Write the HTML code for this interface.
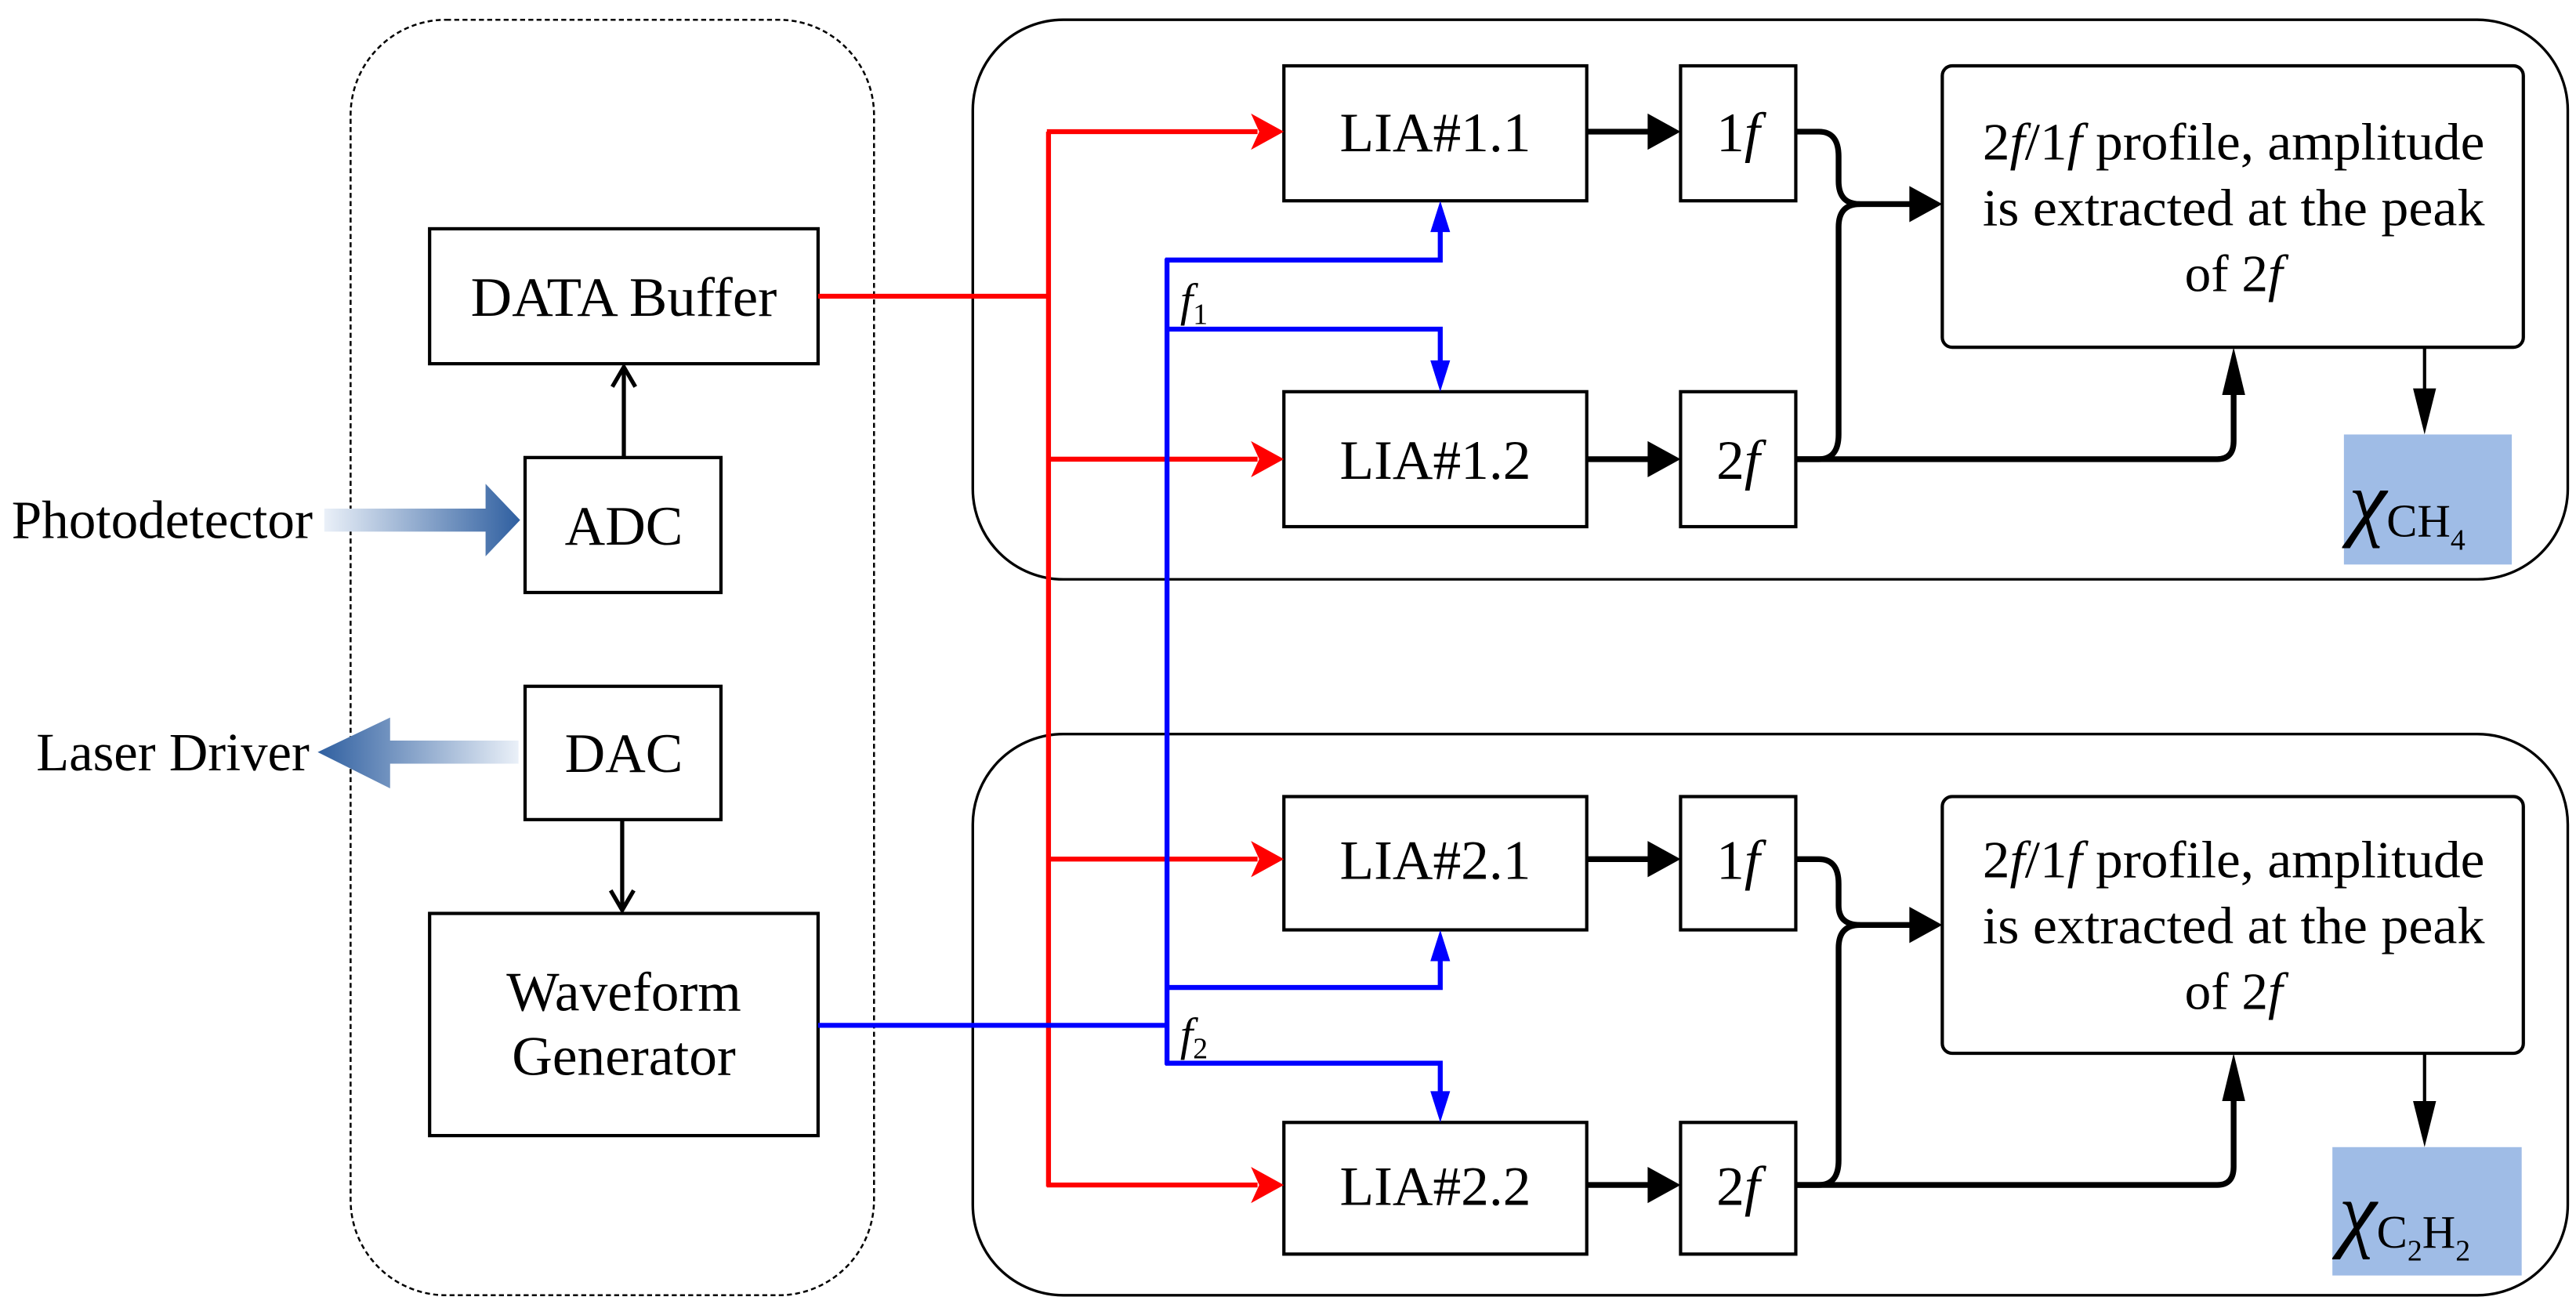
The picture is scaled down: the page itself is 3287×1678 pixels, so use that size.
<!DOCTYPE html>
<html><head><meta charset="utf-8"><style>
html,body{margin:0;padding:0;background:#fff;}
svg{display:block;}
text{font-family:"Liberation Serif",serif;fill:#000;}
</style></head><body>
<svg width="3287" height="1678" viewBox="0 0 1565 799" preserveAspectRatio="none" xmlns="http://www.w3.org/2000/svg">
<defs>
<linearGradient id="g1" x1="0" x2="1"><stop offset="0" stop-color="#eaf0f8"/><stop offset="1" stop-color="#2f5fa0"/></linearGradient>
<linearGradient id="g2" x1="1" x2="0"><stop offset="0" stop-color="#eaf0f8"/><stop offset="1" stop-color="#2f5fa0"/></linearGradient>
</defs>
<g fill="none" stroke="#000">
<rect x="213" y="12" width="318" height="775" rx="58" ry="58" stroke-dasharray="3,2" stroke-width="1.2"/>
<rect x="591" y="12" width="969" height="340" rx="55" ry="55" stroke-width="1.6"/>
<rect x="591" y="446" width="969" height="341" rx="55" ry="55" stroke-width="1.6"/>
<g stroke-width="2">
<rect x="261" y="139" width="236" height="82"/>
<rect x="319" y="278" width="119" height="82"/>
<rect x="319" y="417" width="119" height="81"/>
<rect x="261" y="555" width="236" height="135"/>
<rect x="780" y="40" width="184" height="82"/>
<rect x="780" y="238" width="184" height="82"/>
<rect x="780" y="484" width="184" height="81"/>
<rect x="780" y="682" width="184" height="80"/>
<rect x="1021" y="40" width="70" height="82"/>
<rect x="1021" y="238" width="70" height="82"/>
<rect x="1021" y="484" width="70" height="81"/>
<rect x="1021" y="682" width="70" height="80"/>
<rect x="1180" y="40" width="353" height="171" rx="6"/>
<rect x="1180" y="484" width="353" height="156" rx="6"/>
</g>
<g stroke-width="2.5">
<line x1="379" y1="278" x2="379" y2="223"/>
<polyline points="372,235 379,223 386,235"/>
<line x1="378" y1="498" x2="378" y2="553"/>
<polyline points="371,541 378,553 385,541"/>
</g>
</g>
<rect x="1424" y="264" width="102" height="79" fill="#9fbce6"/>
<rect x="1417" y="697" width="115" height="78" fill="#9fbce6"/>
<polygon points="197,309 295,309 295,294 316,316 295,338 295,323 197,323" fill="url(#g1)"/>
<polygon points="315,450 237,450 237,436 193,457 237,479 237,464 315,464" fill="url(#g2)"/>
<g stroke="#f00" stroke-width="3" fill="none">
<polyline points="497,180 637,180"/>
<line x1="637" y1="80" x2="637" y2="721"/>
<line x1="636" y1="80" x2="764" y2="80"/>
<line x1="636" y1="279" x2="764" y2="279"/>
<line x1="636" y1="522" x2="764" y2="522"/>
<line x1="636" y1="720" x2="764" y2="720"/>
</g>
<g fill="#f00">
<polygon points="760,69 780,80 760,91 765,80"/>
<polygon points="760,268 780,279 760,290 765,279"/>
<polygon points="760,511 780,522 760,533 765,522"/>
<polygon points="760,709 780,720 760,731 765,720"/>
</g>
<g stroke="#00f" stroke-width="3" fill="none">
<line x1="497" y1="623" x2="709" y2="623"/>
<line x1="709" y1="157" x2="709" y2="647"/>
<polyline points="708,158 875,158 875,140"/>
<polyline points="708,200 875,200 875,220"/>
<polyline points="708,600 875,600 875,583"/>
<polyline points="708,646 875,646 875,664"/>
</g>
<g fill="#00f">
<polygon points="869,141 875,122 881,141"/>
<polygon points="869,219 875,238 881,219"/>
<polygon points="869,584 875,565 881,584"/>
<polygon points="869,663 875,682 881,663"/>
</g>
<g stroke="#000" stroke-width="3.5" fill="none">
<line x1="964" y1="80" x2="1003" y2="80"/>
<line x1="964" y1="279" x2="1003" y2="279"/>
<line x1="964" y1="522" x2="1003" y2="522"/>
<line x1="964" y1="720" x2="1003" y2="720"/>
<path d="M1091,80 H1105 Q1117,80 1117,95 V110 Q1117,124 1130,124 H1162"/>
<path d="M1091,279 H1105 Q1117,279 1117,264 V138 Q1117,124 1130,124"/>
<path d="M1091,279 H1347 Q1357,279 1357,268 V238"/>
<path d="M1091,522 H1105 Q1117,522 1117,537 V550 Q1117,562 1130,562 H1162"/>
<path d="M1091,720 H1105 Q1117,720 1117,705 V576 Q1117,562 1130,562"/>
<path d="M1091,720 H1347 Q1357,720 1357,709 V667"/>
</g>
<g stroke="#000" stroke-width="2" fill="none">
<line x1="1473" y1="211" x2="1473" y2="240"/>
<line x1="1473" y1="640" x2="1473" y2="672"/>
</g>
<g fill="#000">
<polygon points="1001,69 1021,80 1001,91"/>
<polygon points="1001,268 1021,279 1001,290"/>
<polygon points="1001,511 1021,522 1001,533"/>
<polygon points="1001,709 1021,720 1001,731"/>
<polygon points="1160,113 1180,124 1160,135"/>
<polygon points="1160,551 1180,562 1160,573"/>
<polygon points="1350,240 1357,211 1364,240"/>
<polygon points="1350,669 1357,640 1364,669"/>
<polygon points="1466,236 1473,264 1480,236"/>
<polygon points="1466,669 1473,697 1480,669"/>
</g>
<g font-size="34" text-anchor="middle">
<text x="379" y="192" textLength="186" lengthAdjust="spacingAndGlyphs">DATA Buffer</text>
<text x="379" y="331">ADC</text>
<text x="379" y="469">DAC</text>
<text x="379" y="614">Waveform</text>
<text x="379" y="653">Generator</text>
<text x="872" y="92">LIA#1.1</text>
<text x="872" y="291">LIA#1.2</text>
<text x="872" y="534">LIA#2.1</text>
<text x="872" y="732">LIA#2.2</text>
<text x="1056" y="92">1<tspan font-style="italic">f</tspan></text>
<text x="1056" y="291">2<tspan font-style="italic">f</tspan></text>
<text x="1056" y="534">1<tspan font-style="italic">f</tspan></text>
<text x="1056" y="732">2<tspan font-style="italic">f</tspan></text>
</g>
<g font-size="32" text-anchor="middle">
<text x="1357" y="97" textLength="305" lengthAdjust="spacingAndGlyphs">2<tspan font-style="italic">f</tspan>/1<tspan font-style="italic">f</tspan> profile, amplitude</text>
<text x="1357" y="137" textLength="305" lengthAdjust="spacingAndGlyphs">is extracted at the peak</text>
<text x="1357" y="177">of 2<tspan font-style="italic">f</tspan></text>
<text x="1357" y="533" textLength="305" lengthAdjust="spacingAndGlyphs">2<tspan font-style="italic">f</tspan>/1<tspan font-style="italic">f</tspan> profile, amplitude</text>
<text x="1357" y="573" textLength="305" lengthAdjust="spacingAndGlyphs">is extracted at the peak</text>
<text x="1357" y="613">of 2<tspan font-style="italic">f</tspan></text>
</g>
<text x="7" y="327" font-size="33" textLength="183" lengthAdjust="spacingAndGlyphs">Photodetector</text>
<text x="22" y="468" font-size="33" textLength="166" lengthAdjust="spacingAndGlyphs">Laser Driver</text>
<text x="717" y="192" font-size="28" font-style="italic">f<tspan font-style="normal" font-size="18" dy="5">1</tspan></text>
<text x="717" y="638" font-size="28" font-style="italic">f<tspan font-style="normal" font-size="18" dy="5">2</tspan></text>
<text x="1427" y="322" font-size="52" font-style="italic">χ<tspan font-style="normal" font-size="28" dy="4">CH</tspan><tspan font-style="normal" font-size="18" dy="8">4</tspan></text>
<text x="1421" y="754" font-size="52" font-style="italic">χ<tspan font-style="normal" font-size="28" dy="4">C</tspan><tspan font-style="normal" font-size="18" dy="8">2</tspan><tspan font-style="normal" font-size="28" dy="-8">H</tspan><tspan font-style="normal" font-size="18" dy="8">2</tspan></text>
</svg>
</body></html>
